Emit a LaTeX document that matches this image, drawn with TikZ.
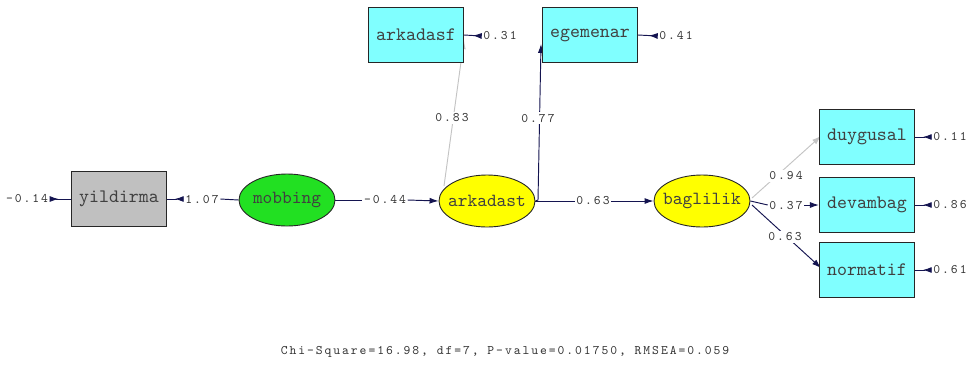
\documentclass[tikz,border=0pt]{standalone}
\usepackage{fontspec}
\usetikzlibrary{arrows.meta,shapes.geometric,backgrounds}
\newfontfamily\boxfont{lmmono10-regular.otf}
\newfontfamily\numfont{lmmono10-regular.otf}[LetterSpace=15]
\definecolor{ln}{HTML}{141450}
\definecolor{cy}{HTML}{80FFFF}
\definecolor{gy}{HTML}{C0C0C0}
\definecolor{grn}{HTML}{22E022}
\definecolor{yl}{HTML}{FFFF00}
\definecolor{lg}{HTML}{C4C4C4}
\newcommand{\ltext}[1]{\makebox[40pt]{#1}}
\tikzset{
  obs/.style={draw=black!85, fill=cy, line width=1.1pt, minimum width=95pt, minimum height=55pt,
    inner sep=0pt, font=\boxfont\fontsize{19}{19}\selectfont, text=black!75},
  lat/.style={ellipse, draw=black!85, line width=0.9pt, minimum width=96pt, minimum height=52pt,
    inner sep=0pt, font=\boxfont\fontsize{18.5}{18.5}\selectfont, text=black!75},
  num/.style={font=\numfont\fontsize{13}{13}\selectfont, text=black!80, inner sep=1.5pt},
  numw/.style={num, fill=white},
  pth/.style={draw=ln, line width=0.95pt},
  gpth/.style={draw=lg, line width=0.95pt},
  hd/.style={-{Latex[length=9pt,width=6pt]}},
  rhd/.style={{Latex[reversed,length=9pt,width=6pt]}-},
}
\begin{document}
\begin{tikzpicture}[x=1pt,y=-1pt]
\useasboundingbox (0,0) rectangle (976,365);
% nodes
\node[obs,fill=gy] (yil) at (119,199) {yildirma};
\node[lat,fill=grn] (mob) at (287,200) {\ltext{mobbing}};
\node[lat,fill=yl] (ark) at (487,201) {\ltext{arkadast}};
\node[lat,fill=yl] (bag) at (702,201) {\ltext{baglilik}};
\node[obs] (af) at (416,35) {arkadasf};
\node[obs] (eg) at (590,35) {egemenar};
\node[obs] (du) at (867,137) {duygusal};
\node[obs] (de) at (867,205) {devambag};
\node[obs] (no) at (867,270) {normatif};
% labels
\node[num] (e014) at (27,199) {-0.14};
\node[num] (l107) at (202,199) {1.07};
\node[num] (l044) at (385,200) {-0.44};
\node[num] (e031) at (500,36) {0.31};
\node[num] (e041) at (676,36) {0.41};
\node[numw] (l083) at (452,118) {0.83};
\node[numw] (l077) at (538,118) {0.77};
\node[num] (l063) at (593,201) {0.63};
\node[numw] (l094) at (786,176) {0.94};
\node[num] (l037) at (786,205) {0.37};
\node[numw] (l063b) at (785,237) {0.63};
\node[num] (e011) at (950,137) {0.11};
\node[num] (e086) at (950,205) {0.86};
\node[num] (e061) at (950,270) {0.61};
\node[num] (chi) at (505,352) {Chi-Square=16.98, df=7, P-value=0.01750, RMSEA=0.059};
\coordinate (afin) at (464,40);
\coordinate (arkf) at (444,186);
\coordinate (arke) at (538,200);
\coordinate (egin) at (541,44);
\coordinate (bagd) at (752,198);
\coordinate (bagn) at (752,205);
\coordinate (duin) at (821,136);
\coordinate (noin) at (821,268);
% connectors
\begin{scope}[on background layer]
\draw[pth,rhd] (e014.east) -- (yil.west);
\draw[pth] (mob.west) -- (l107.east);
\draw[pth,rhd] (l107.west) -- (yil.east);
\draw[pth] (mob.east) -- (l044.west);
\draw[pth,hd] (l044.east) -- (ark.west);
\draw[gpth,hd] (arkf) -- (afin);
\draw[pth,hd] (ark.east) -- (arke) -- (egin);
\draw[pth,rhd] (e031.west) -- (af.east);
\draw[pth,rhd] (e041.west) -- (eg.east);
\draw[pth] (ark.east) -- (l063.west);
\draw[pth,hd] (l063.east) -- (bag.west);
\draw[gpth,hd] (bagd) -- (duin);
\draw[pth] (bag.east) -- (l037.west);
\draw[pth,hd] (l037.east) -- (de.west);
\draw[pth,hd] (bagn) -- (noin);
\draw[pth,rhd] (e011.west) -- (du.east);
\draw[pth,rhd] (e086.west) -- (de.east);
\draw[pth,rhd] (e061.west) -- (no.east);
\end{scope}
\end{tikzpicture}
\end{document}
